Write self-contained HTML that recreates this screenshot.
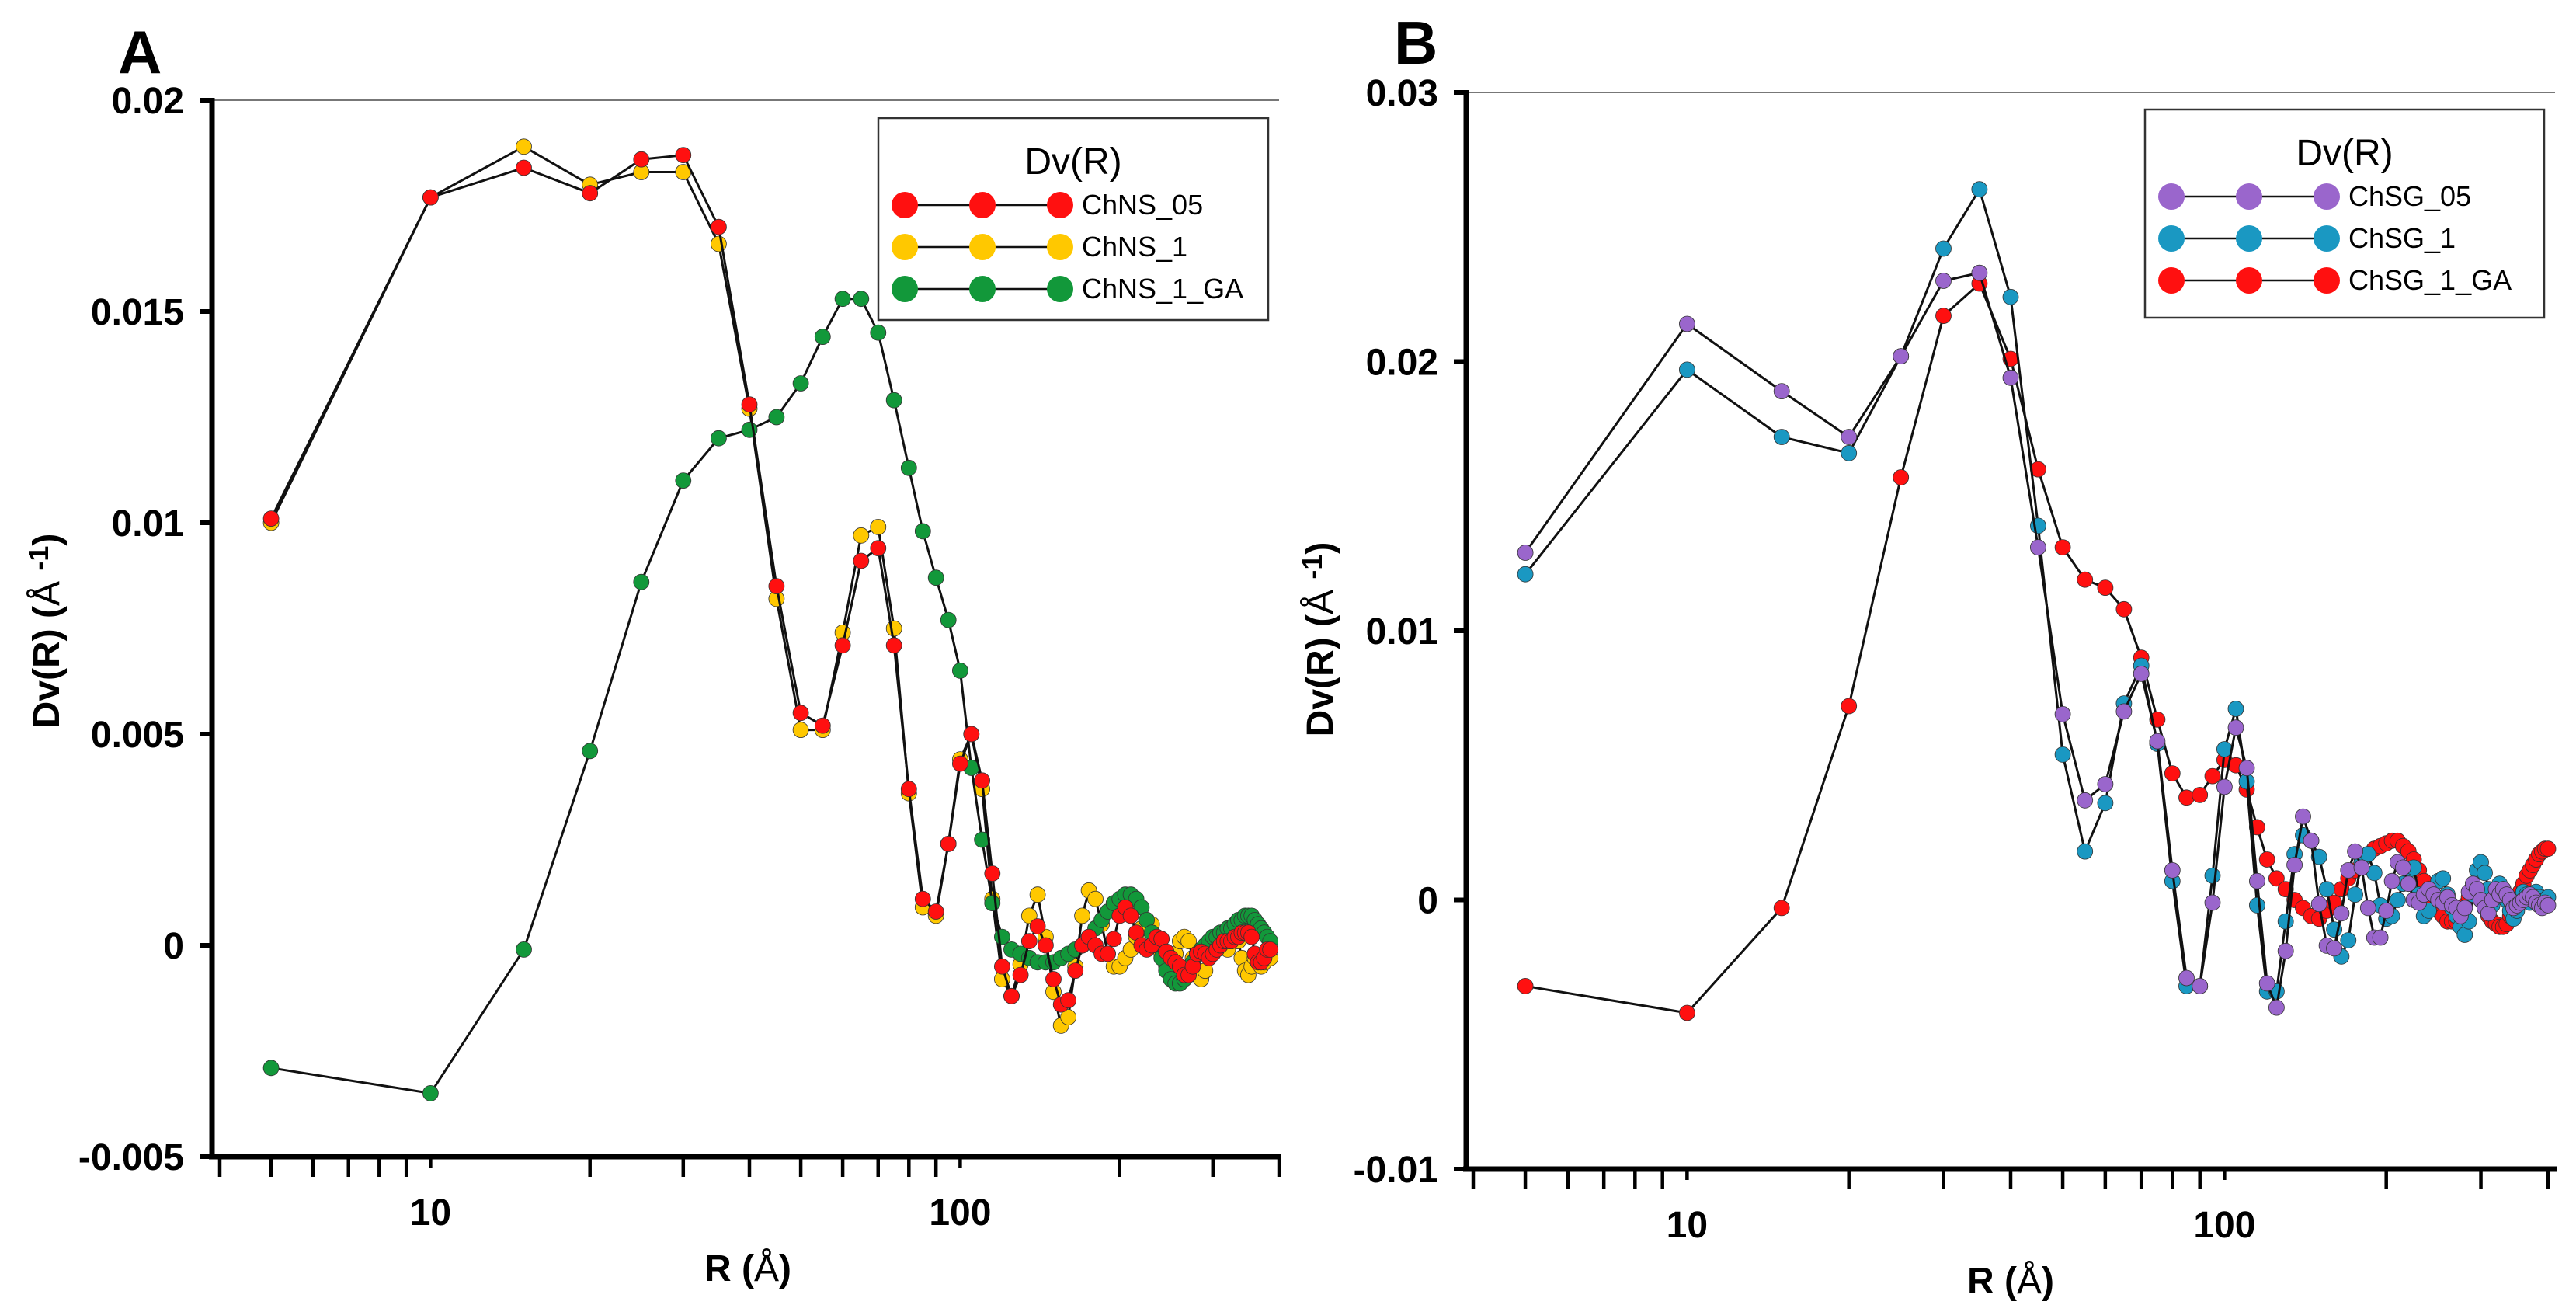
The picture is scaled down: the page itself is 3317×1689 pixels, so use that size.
<!DOCTYPE html>
<html><head><meta charset="utf-8"><style>
html,body{margin:0;padding:0;background:#fff;}
svg{display:block;font-family:"Liberation Sans",Arial,sans-serif;}
</style></head><body>
<svg id="chart" width="3317" height="1689" viewBox="0 0 3317 1689" xmlns="http://www.w3.org/2000/svg">
<rect x="0" y="0" width="3317" height="1689" fill="#fff"/>
<text x="152" y="94" font-size="78" font-weight="bold">A</text>
<text x="1795" y="82" font-size="78" font-weight="bold">B</text>
<g id="panelA"></g>
<g id="panelB"></g>
</svg>
<script>
const rA = [5,10,15,20,25,30,35,40,45,50,55,60,65,70,75,80,85,90,95,100,105,110,115,120,125,130,135,140,145,150,155,160,165,170,175,180,185,190,195,200,205,210,215,220,225,230,235,240,245,250,255,260,265,270,275,280,285,290,295,300,305,310,315,320,325,330,335,340,345,350,355,360,365,370,375,380,385];
const chns05 = [.0101,.0177,.0184,.0178,.0186,.0187,.0170,.0128,.0085,.0055,
.0052,.0071,.0091,.0094,.0071,.0037,.0011,.0008,.0024,.0043,
.0050,.0039,.0017,-.0005,-.0012,-.0007,.0001,.00045,0,-.0008,
-.0014,-.0013,-.0006,0,.0002,0,-.0002,-.0002,.00015,.0007,
.0009,.0007,.0003,0,-.0001,0,.0002,.00015,-.00015,-.0003,
-.0004,-.0005,-.0007,-.0007,-.0005,-.0002,-.00015,-.0002,-.0003,-.0002,
-.0001,0,.0001,.0001,.0001,.0002,.0002,.0003,.0003,.0003,
.0002,-.0002,-.0004,-.0004,-.0003,-.0001,-.0001];
const chns1 = [.0100,.0177,.0189,.0180,.0183,.0183,.0166,.0127,.0082,.0051,
.0051,.0074,.0097,.0099,.0075,.0036,.0009,.0007,.0024,.0044,
.0050,.0037,.0011,-.0008,-.0012,-.00045,.0007,.0012,.0002,-.0011,
-.0019,-.0017,-.0005,.0007,.0013,.0011,.0005,-.0002,-.0005,-.0005,
-.0003,-.0001,.0002,.0004,.0006,.0005,.0002,-.0002,-.0005,-.0005,
-.0002,.0001,.0002,.0001,-.0003,-.0007,-.0008,-.0006,-.0003,-.0001,
.0001,.0001,0,-.0001,.0001,.0002,.0001,-.0003,-.0006,-.0007,
-.0005,-.0003,-.0004,-.0005,-.0004,-.0002,-.0003];
const chns1ga = [-.0029,-.0035,-.0001,.0046,.0086,.0110,.0120,.0122,.0125,.0133,
.0144,.0153,.0153,.0145,.0129,.0113,.0098,.0087,.0077,.0065,
.0042,.0025,.0010,.0002,-.0001,-.0002,-.0003,-.0004,-.0004,-.0004,
-.0003,-.0002,-.0001,0,.0002,.0004,.0006,.0008,.0010,.0011,
.0012,.0012,.0011,.0009,.0006,.0003,0,-.0003,-.0006,-.0008,
-.0009,-.0009,-.0008,-.0006,-.0004,-.0002,-.0001,0,.0001,.0002,
.0002,.0003,.0003,.0004,.0004,.0005,.0006,.0006,.0007,.0007,
.0007,.0006,.0005,.0004,.0003,.0002,.0001];
const rB = [5,10,15,20,25,30,35,40,45,50,55,60,65,70,75,80,85,90,95,100,105,110,115,120,125,130,135,140,145,150,155,160,165,170,175,180,185,190,195,200,205,210,215,220,225,230,235,240,245,250,255,260,265,270,275,280,285,290,295,300,305,310,315,320,325,330,335,340,345,350,355,360,365,370,375,380,385,390,395,400];
const chsg05 = [.0129,.0214,.0189,.0172,.0202,.0230,.0233,.0194,.0131,.0069,
.0037,.0043,.0070,.0084,.0059,.0011,-.0029,-.0032,-.0001,.0042,
.0064,.0049,.0007,-.0031,-.0040,-.0019,.0013,.0031,.0022,-.00015,
-.0017,-.0018,-.0005,.0011,.0018,.0012,-.0003,-.0014,-.0014,-.0004,
.0007,.0014,.0012,.0006,0,-.0001,.0002,.0004,.0002,0,
-.0001,.0001,-.0002,-.0003,-.0006,-.0003,.0003,.0006,.0004,0,
-.0003,-.0005,0,.0004,.0002,.0004,.0002,0,-.0003,-.0002,
-.0001,0,.0001,.0002,.0001,-.0001,-.0002,-.0003,-.0001,-.0002];
const chsg1 = [.0121,.0197,.0172,.0166,.0202,.0242,.0264,.0224,.0139,.0054,
.0018,.0036,.0073,.0087,.0058,.0007,-.0032,-.0032,.0009,.0056,
.0071,.0044,-.0002,-.0034,-.0034,-.0008,.0017,.0024,.0022,.0016,
.0004,-.0011,-.0021,-.0015,.0002,.0014,.0017,.0010,-.0002,-.0007,
-.0006,0,.0006,.0011,.0012,.0002,-.0006,-.0004,.0002,.0007,
.0008,.0002,-.0003,-.0006,-.0010,-.0013,-.0008,.0002,.0011,.0014,
.0010,.0004,-.0002,.0002,.0006,.0004,0,-.0004,-.0007,-.0004,
.0001,.0003,.0002,-.0001,.0001,.0003,.0001,-.0002,0,.0001];
const chsg1ga = [-.0032,-.0042,-.0003,.0072,.0157,.0217,.0229,.0201,.0160,.0131,
.0119,.0116,.0108,.0090,.0067,.0047,.0038,.0039,.0046,.0052,
.0050,.0041,.0027,.0015,.0008,.0004,0,-.0003,-.0006,-.0007,
-.0004,-.0001,.0004,.0008,.0011,.0014,.0017,.0019,.0020,.0021,
.0022,.0022,.0020,.0018,.0015,.0011,.0007,.0003,-.0001,-.0004,
-.0006,-.0008,-.0008,-.0008,-.0007,-.0002,.0001,.0004,.0003,0,
-.0003,-.0006,-.0008,-.0009,-.0010,-.0010,-.0009,-.0006,-.0002,.0001,
.0003,.0006,.0009,.0011,.0013,.0015,.0017,.0018,.0019,.0019];
const yTicksA = [0.02,0.015,0.01,0.005,0,-0.005];
const yTickLabelsA = ["0.02","0.015","0.01","0.005","0","-0.005"];
const yTicksB = [0.03,0.02,0.01,0,-0.01];
const yTickLabelsB = ["0.03","0.02","0.01","0","-0.01"];
const xMinorTicks = [4,5,6,7,8,9,20,30,40,50,60,70,80,90,200,300,400];
const xMajorTicks = [10,100];
const xMajorLabels = ["10","100"];

const NS = "http://www.w3.org/2000/svg";
function mk(tag, attrs, parent){
  const e = document.createElementNS(NS, tag);
  for (const k in attrs) e.setAttribute(k, attrs[k]);
  parent.appendChild(e);
  return e;
}

function drawPanel(g, cfg){
  const X = r => cfg.x4 + cfg.dec*Math.log10(r/4);
  const Y = v => cfg.yTop + (cfg.vTop - v)/cfg.step*cfg.stepPx;
  const yBot = Y(cfg.vBot);
  let e = mk("line",{x1:cfg.ax,y1:cfg.yTop,x2:cfg.xEnd,y2:cfg.yTop,stroke:"#777","stroke-width":2},g);
  
  
  cfg.series.forEach(s=>{
    const sg = mk("g",{},g);
    
    
    const pts = s.r.map((r,i)=>X(r).toFixed(1)+","+Y(s.v[i]).toFixed(1)).join(" ");
    const pl = mk("polyline",{points:pts,fill:"none",stroke:"#111","stroke-width":3,"stroke-linejoin":"round"},sg);
    
    
    s.r.forEach((r,i)=>{
      const c = mk("circle",{cx:X(r).toFixed(1),cy:Y(s.v[i]).toFixed(1),r:10,fill:s.color,stroke:"#333","stroke-width":0.8},sg);
      
      
    });
  });
  e = mk("line",{x1:cfg.ax,y1:cfg.yTop-3,x2:cfg.ax,y2:yBot+3,stroke:"#000","stroke-width":7},g);
  
  
  e = mk("line",{x1:cfg.ax-4,y1:yBot,x2:cfg.xEnd+3,y2:yBot,stroke:"#000","stroke-width":7},g);
  
  
  cfg.yTicks.forEach((v,i)=>{
    const t = mk("line",{x1:cfg.ax-16,y1:Y(v),x2:cfg.ax,y2:Y(v),stroke:"#000","stroke-width":6},g);
    
    
    const l = mk("text",{x:cfg.ax-36,y:Y(v)+17,"text-anchor":"end","font-size":48,"font-weight":"bold"},g);
    l.textContent = cfg.yLabels[i];
    
    
  });
  xMinorTicks.forEach(r=>{
    const t = mk("line",{x1:X(r),y1:yBot,x2:X(r),y2:yBot+26,stroke:"#000","stroke-width":4.5},g);
    
    
  });
  xMajorTicks.forEach((r,i)=>{
    const t = mk("line",{x1:X(r),y1:yBot,x2:X(r),y2:yBot+14,stroke:"#000","stroke-width":4.5},g);
    
    
    const l = mk("text",{x:X(r),y:yBot+88,"text-anchor":"middle","font-size":48,"font-weight":"bold"},g);
    l.textContent = xMajorLabels[i];
    
    
  });
  const xt = mk("text",{x:cfg.xTitleX,y:yBot+160,"text-anchor":"middle","font-size":48,"font-weight":"bold"},g);
  xt.innerHTML = 'R (<tspan font-weight="normal">Å</tspan>)';
  
  
  const yt = mk("text",{transform:`translate(${cfg.yTitleX},${cfg.yTitleY}) rotate(-90)`,"text-anchor":"middle","font-size":48,"font-weight":"bold"},g);
  yt.innerHTML = 'Dv(R) (<tspan font-weight="normal">Å</tspan> <tspan dy="-14" font-size="36">-1</tspan><tspan dy="14">)</tspan>';
  
  
  const L = cfg.legend;
  const lg = mk("g",{},g);
  
  
  e = mk("rect",{x:L.x,y:L.y,width:L.w,height:L.h,fill:"#fff",stroke:"#333","stroke-width":2.5},lg);
  
  
  e = mk("text",{x:L.x+L.w/2,y:L.y+72,"text-anchor":"middle","font-size":48},lg);
  e.textContent = "Dv(R)";
  
  
  L.entries.forEach((en,i)=>{
    const yy = L.y + 112 + i*54;
    const eg = mk("g",{},lg);
    
    
    mk("line",{x1:L.x+34,y1:yy,x2:L.x+234,y2:yy,stroke:"#111","stroke-width":2.5},eg);
    [34,134,234].forEach(dx=>mk("circle",{cx:L.x+dx,cy:yy,r:17,fill:en.color},eg));
    const t = mk("text",{x:L.x+262,y:yy+12,"font-size":36},eg);
    t.textContent = en.label;
    
    
  });
}

const RED="#ff1010", YEL="#ffc800", GRN="#12983a", PUR="#9a66cc", BLU="#1a98c2";
drawPanel(document.getElementById("panelA"),{
  ax:273, x4:283, dec:682, xEnd:1647, yTop:129, vTop:0.02, vBot:-0.005, step:0.005, stepPx:272,
  yTicks:yTicksA, yLabels:yTickLabelsA, xTitleX:963, yTitleX:76, yTitleY:812,
  series:[
    {name:'chns-1',r:rA,v:chns1,color:YEL},
    {name:'chns-1-ga',r:rA,v:chns1ga,color:GRN},
    {name:'chns-05',r:rA,v:chns05,color:RED}
  ],
  legend:{x:1131,y:152,w:502,h:260,entries:[{label:"ChNS_05",color:RED},{label:"ChNS_1",color:YEL},{label:"ChNS_1_GA",color:GRN}]}
});
drawPanel(document.getElementById("panelB"),{
  ax:1888, x4:1897, dec:692, xEnd:3290, yTop:119, vTop:0.03, vBot:-0.01, step:0.01, stepPx:346.5,
  yTicks:yTicksB, yLabels:yTickLabelsB, xTitleX:2589, yTitleX:1716, yTitleY:823,
  series:[
    {name:'chsg-1-ga',r:rB,v:chsg1ga,color:RED},
    {name:'chsg-1',r:rB,v:chsg1,color:BLU},
    {name:'chsg-05',r:rB,v:chsg05,color:PUR}
  ],
  legend:{x:2762,y:141,w:514,h:268,entries:[{label:"ChSG_05",color:PUR},{label:"ChSG_1",color:BLU},{label:"ChSG_1_GA",color:RED}]}
});
</script>
</body></html>
